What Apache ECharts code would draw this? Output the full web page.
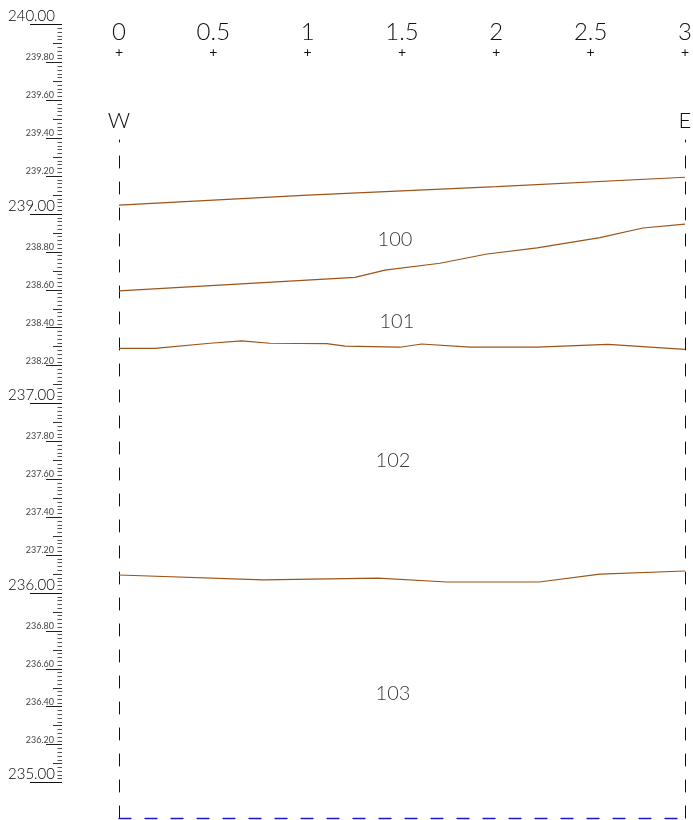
<!DOCTYPE html>
<html><head><meta charset="utf-8">
<script src="https://cdn.jsdelivr.net/npm/echarts/dist/echarts.min.js"></script>
<style>html,body{margin:0;padding:0;background:#fff}#c{width:693px;height:820px}</style>
</head><body><div id="c"></div>
<script>
// ---- left elevation axis ----
const elevMin = 236, elevMax = 240;
const majorTickValues = [240, 239, 238, 237, 236];
const majorTickLabels = ['240.00', '239.00', '237.00', '236.00', '235.00'];
const minorTickValues = [239.8, 239.6, 239.4, 239.2, 238.8, 238.6, 238.4, 238.2, 237.8, 237.6, 237.4, 237.2, 236.8, 236.6, 236.4, 236.2];
const minorTickLabels = ['239.80', '239.60', '239.40', '239.20', '238.80', '238.60', '238.40', '238.20', '237.80', '237.60', '237.40', '237.20', '236.80', '236.60', '236.40', '236.20'];
// ---- distance axis ----
const distTicks = [0, 0.5, 1, 1.5, 2, 2.5, 3];
const distTickLabels = ['0', '0.5', '1', '1.5', '2', '2.5', '3'];
const sideValues = [0, 3];
const sideLabels = ['W', 'E'];
// ---- layer boundaries ----
const b1X = [0, 1, 2, 3];
const b1Y = [239.047, 239.100, 239.144, 239.194];
const b2X = [0, 1.251, 1.41, 1.701, 1.951, 2.216, 2.549, 2.777, 3];
const b2Y = [238.594, 238.666, 238.704, 238.740, 238.789, 238.821, 238.875, 238.926, 238.947];
const b3X = [0, 0.191, 0.482, 0.650, 0.800, 1.101, 1.198, 1.489, 1.604, 1.860, 2.214, 2.592, 3];
const b3Y = [238.291, 238.291, 238.318, 238.331, 238.318, 238.316, 238.303, 238.297, 238.314, 238.297, 238.297, 238.312, 238.286];
const b4X = [0, 0.763, 1.373, 1.738, 2.226, 2.549, 3];
const b4Y = [237.095, 237.069, 237.079, 237.058, 237.058, 237.100, 237.116];
// ---- layer names ----
const layerNames = ['100', '101', '102', '103'];
const layerX = [1.463, 1.473, 1.452, 1.452];
const layerY = [238.863, 238.430, 237.697, 236.467];

const FONT = 'Lato';
const LINE_COLOR = '#9c5417';
const zip = (xs, ys) => xs.map((x, i) => [x, ys[i]]);
const near = (arr, v) => arr.findIndex(a => Math.abs(a - v) < 1e-6);

const chart = echarts.init(document.getElementById('c'), null, {renderer: 'canvas'});

const leftAxisBase = {
  type: 'value', gridIndex: 1, min: elevMin, max: elevMax, position: 'left',
  axisLine: {show: false}, splitLine: {show: false}
};

const boundary = (xs, ys) => ({
  type: 'line', xAxisIndex: 0, yAxisIndex: 0, data: zip(xs, ys),
  symbol: 'none', smooth: false, silent: true,
  lineStyle: {color: LINE_COLOR, width: 1.2}
});

chart.setOption({
  animation: false,
  backgroundColor: '#fff',
  grid: [
    {left: 119, right: 8, top: 140, bottom: 2, outerBoundsMode: 'none', containLabel: false},
    {left: 62, width: 10, top: 24.5, height: 758, outerBoundsMode: 'none', containLabel: false}
  ],
  xAxis: [
    {type: 'value', gridIndex: 0, min: 0, max: 3, position: 'bottom',
      axisLine: {show: true, onZero: false, lineStyle: {color: '#1c1ccc', width: 1.3, type: [12, 14]}},
      axisTick: {show: false}, axisLabel: {show: false}, splitLine: {show: false}},
    {type: 'value', gridIndex: 0, min: 0, max: 3, interval: 0.5, position: 'top', offset: 81,
      axisLine: {show: false}, axisTick: {show: false}, splitLine: {show: false},
      axisLabel: {show: true, margin: 0, showMinLabel: true, showMaxLabel: true,
        formatter: v => { const i = near(distTicks, v); return i < 0 ? '' : '{n|' + distTickLabels[i] + '}\n{p|+}'; },
        rich: {
          n: {fontFamily: FONT, fontSize: 24, fontWeight: 300, color: '#111', lineHeight: 25, align: 'center'},
          p: {fontFamily: FONT, fontSize: 14, color: '#111', lineHeight: 14, align: 'center'}
        }}},
    {type: 'value', gridIndex: 0, min: 0, max: 3, interval: 3, position: 'top', offset: 0,
      axisLine: {show: false}, axisTick: {show: false}, splitLine: {show: false},
      axisLabel: {show: true, margin: 8, showMinLabel: true, showMaxLabel: true,
        fontFamily: FONT, fontSize: 22, fontWeight: 300, color: '#111', lineHeight: 22,
        formatter: v => { const i = near(sideValues, v); return i < 0 ? '' : sideLabels[i]; }}},
    {type: 'value', gridIndex: 1, show: false, min: 0, max: 1}
  ],
  yAxis: [
    {type: 'value', gridIndex: 0, min: 235.8127, max: 239.3905, position: 'left',
      axisLine: {show: true, onZero: false, lineStyle: {color: '#111', width: 1, type: [12, 14]}},
      axisTick: {show: false}, axisLabel: {show: false}, splitLine: {show: false}},
    {type: 'value', gridIndex: 0, min: 235.8127, max: 239.3905, position: 'right',
      axisLine: {show: true, onZero: false, lineStyle: {color: '#111', width: 1, type: [12, 14]}},
      axisTick: {show: false}, axisLabel: {show: false}, splitLine: {show: false}},
    Object.assign({}, leftAxisBase, {interval: 0.02,
      axisTick: {show: true, length: 4.5, lineStyle: {color: '#555', width: 1}},
      axisLabel: {show: false}}),
    Object.assign({}, leftAxisBase, {interval: 0.1,
      axisTick: {show: true, length: 9, lineStyle: {color: '#333', width: 1}},
      axisLabel: {show: false}}),
    Object.assign({}, leftAxisBase, {interval: 0.2,
      axisTick: {show: true, length: 16, lineStyle: {color: '#222', width: 1}},
      axisLabel: {show: true, margin: 8, align: 'right', verticalAlign: 'bottom',
        fontFamily: FONT, fontSize: 9, color: '#444', lineHeight: 10,
        showMinLabel: true, showMaxLabel: true,
        formatter: v => { const i = near(minorTickValues, v); return i < 0 ? '' : minorTickLabels[i]; }}}),
    Object.assign({}, leftAxisBase, {interval: 1,
      axisTick: {show: true, length: 32, lineStyle: {color: '#111', width: 1}},
      axisLabel: {show: true, margin: 7, align: 'right', verticalAlign: 'bottom',
        fontFamily: FONT, fontSize: 15, fontWeight: 300, color: '#000', lineHeight: 16,
        showMinLabel: true, showMaxLabel: true,
        formatter: v => { const i = near(majorTickValues, v); return i < 0 ? '' : majorTickLabels[i]; }}})
  ],
  series: [
    boundary(b1X, b1Y),
    boundary(b2X, b2Y),
    boundary(b3X, b3Y),
    boundary(b4X, b4Y),
    {type: 'scatter', xAxisIndex: 0, yAxisIndex: 0, symbolSize: 0, silent: true,
      data: layerNames.map((n, i) => ({name: n, value: [layerX[i], layerY[i]]})),
      label: {show: true, position: 'inside', formatter: p => p.name,
        fontFamily: FONT, fontSize: 20, fontWeight: 300, color: '#000'}}
  ]
});
</script></body></html>
